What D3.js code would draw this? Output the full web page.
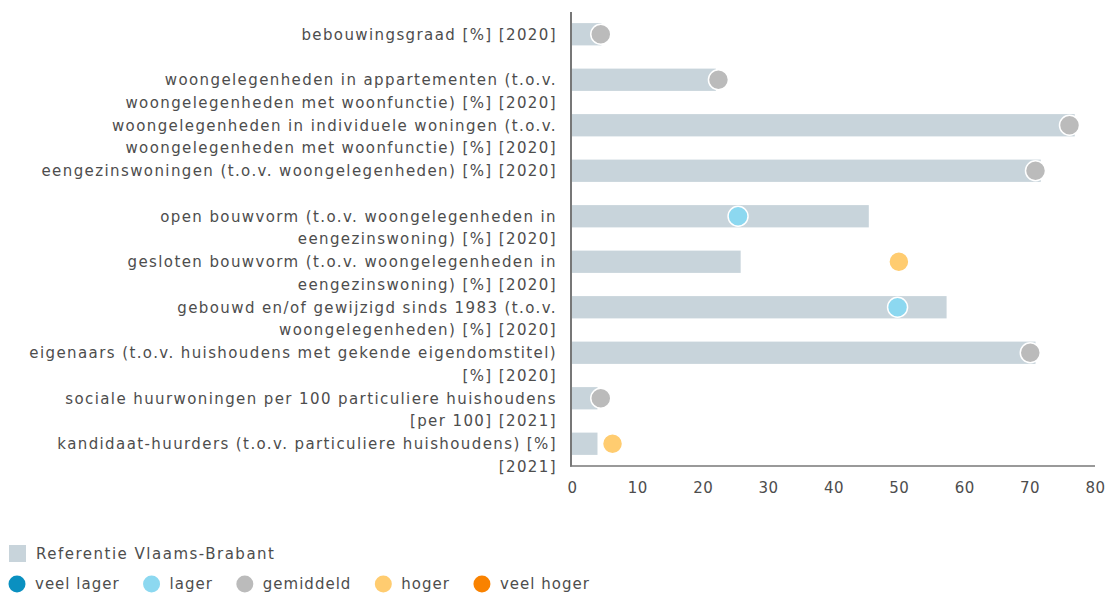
<!DOCTYPE html>
<html>
<head>
<meta charset="utf-8">
<script src="https://cdn.jsdelivr.net/npm/d3@7"></script>
<style>
  html, body { margin: 0; padding: 0; background: #fff; }
  svg { display: block; }
  text { font-family: "DejaVu Sans", Verdana, sans-serif; fill: #4d4d4d; }
</style>
</head>
<body>
<svg id="chart" width="1107" height="595"></svg>
<script>
// Indicator labels, one entry per line of the wrapped label
const labels = [
  ["bebouwingsgraad [%] [2020]"],
  ["woongelegenheden in appartementen (t.o.v.", "woongelegenheden met woonfunctie) [%] [2020]"],
  ["woongelegenheden in individuele woningen (t.o.v.", "woongelegenheden met woonfunctie) [%] [2020]"],
  ["eengezinswoningen (t.o.v. woongelegenheden) [%] [2020]"],
  ["open bouwvorm (t.o.v. woongelegenheden in", "eengezinswoning) [%] [2020]"],
  ["gesloten bouwvorm (t.o.v. woongelegenheden in", "eengezinswoning) [%] [2020]"],
  ["gebouwd en/of gewijzigd sinds 1983 (t.o.v.", "woongelegenheden) [%] [2020]"],
  ["eigenaars (t.o.v. huishoudens met gekende eigendomstitel)", "[%] [2020]"],
  ["sociale huurwoningen per 100 particuliere huishoudens", "[per 100] [2021]"],
  ["kandidaat-huurders (t.o.v. particuliere huishoudens) [%]", "[2021]"]
];

// Reference values (Vlaams-Brabant) drawn as bars
const referenceValues = [4.5, 22.0, 76.9, 71.7, 45.4, 25.8, 57.3, 70.9, 3.9, 3.9];

// Municipality values drawn as dots
const localValues = [4.4, 22.4, 76.1, 70.9, 25.4, 50.0, 49.8, 70.1, 4.4, 6.2];

// Comparison class of each dot
const localClass = ["gemiddeld", "gemiddeld", "gemiddeld", "gemiddeld", "lager",
                    "hoger", "lager", "gemiddeld", "gemiddeld", "hoger"];

const classNames = ["veel lager", "lager", "gemiddeld", "hoger", "veel hoger"];
const classColors = ["#0a90c0", "#8cd8f0", "#bbbbbb", "#ffcc70", "#f98200"];

const xTicks = [0, 10, 20, 30, 40, 50, 60, 70, 80];
const referenceName = "Referentie Vlaams-Brabant";
const barColor = "#c8d4db";

const svg = d3.select("#chart");
const x0 = 572, x1 = 1095, plotTop = 11.5, plotBottom = 466.5;

const x = d3.scaleLinear().domain([0, 80]).range([x0, x1]);
const y = d3.scaleBand().domain(d3.range(labels.length))
  .range([plotTop, plotBottom]).paddingInner(0.51).paddingOuter(0.255);
const color = d3.scaleOrdinal().domain(classNames).range(classColors);

// Bars
svg.append("g").selectAll("rect")
  .data(referenceValues)
  .join("rect")
  .attr("x", x(0))
  .attr("y", (d, i) => y(i))
  .attr("width", d => x(d) - x(0))
  .attr("height", y.bandwidth())
  .attr("fill", barColor);

// Dots
svg.append("g").selectAll("circle")
  .data(localValues)
  .join("circle")
  .attr("cx", d => x(d))
  .attr("cy", (d, i) => y(i) + y.bandwidth() / 2)
  .attr("r", 10)
  .attr("fill", (d, i) => color(localClass[i]))
  .attr("stroke", "#fff")
  .attr("stroke-width", 1.5);

// Bottom axis
const xAxis = svg.append("g")
  .attr("transform", `translate(0,${plotBottom - 0.5})`)
  .call(d3.axisBottom(x).tickValues(xTicks).tickSize(0).tickSizeOuter(0).tickPadding(16));
xAxis.select(".domain").attr("stroke", "#999").attr("stroke-width", 2)
  .attr("d", `M${x0 - 2},0H${x1}`);
xAxis.selectAll("text")
  .style("font-size", "15px")
  .style("letter-spacing", "0.5px")
  .style("font-family", "DejaVu Sans, Verdana, sans-serif")
  .attr("fill", "#4d4d4d");

// Left axis line
const yAxis = svg.append("g")
  .attr("transform", `translate(${x0 - 1},0)`)
  .call(d3.axisLeft(y).tickSize(0).tickFormat(""));
yAxis.select(".domain").attr("stroke", "#777").attr("stroke-width", 2)
  .attr("d", `M0,12V${plotBottom}`);

// Category labels
const lab = svg.append("g").selectAll("text")
  .data(labels)
  .join("text")
  .attr("x", x0 - 16)
  .attr("y", (d, i) => y(i) + y.bandwidth() / 2)
  .attr("text-anchor", "end")
  .style("font-size", "15px")
  .style("letter-spacing", "1.4px");
lab.selectAll("tspan")
  .data(d => d)
  .join("tspan")
  .attr("x", x0 - 15)
  .attr("dy", (d, j) => j === 0 ? "0.35em" : "22.5px")
  .text(d => d);

// Legend
const legend = svg.append("g").style("font-size", "15px");
legend.append("rect").attr("x", 9).attr("y", 545).attr("width", 17).attr("height", 17).attr("fill", barColor);
legend.append("text").attr("x", 36).attr("y", 553.5).attr("dy", "0.35em")
  .style("letter-spacing", "1.5px").text(referenceName);

let lx = 17;
classNames.forEach((name, i) => {
  legend.append("circle").attr("cx", lx).attr("cy", 584).attr("r", 8.5).attr("fill", classColors[i]);
  const t = legend.append("text").attr("x", lx + 18).attr("y", 584).attr("dy", "0.35em")
    .style("letter-spacing", "1px").text(name);
  const w = t.node().getComputedTextLength();
  lx = lx + 18 + w + 32;
});
</script>
</body>
</html>
